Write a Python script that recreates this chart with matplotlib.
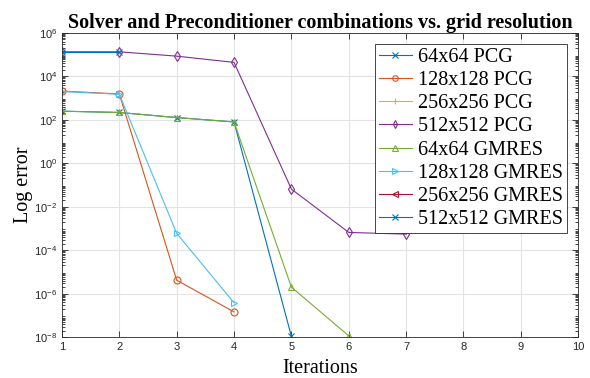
import numpy as np
import matplotlib
matplotlib.use('Agg')
import matplotlib.pyplot as plt
from matplotlib.ticker import LogLocator, FixedLocator

# data (log error per iteration)
labels = ['64x64 PCG', '128x128 PCG', '256x256 PCG', '512x512 PCG',
          '64x64 GMRES', '128x128 GMRES', '256x256 GMRES', '512x512 GMRES']
it_64_pcg = [1, 2, 3, 4, 5]
err_64_pcg = [250, 218, 127, 80, 1.1e-8]
it_128_pcg = [1, 2, 3, 4]
err_128_pcg = [2.1e3, 1.55e3, 4.2e-6, 1.45e-7]
it_256_pcg = []
err_256_pcg = []
it_512_pcg = [1, 2, 3, 4, 5, 6, 7]
err_512_pcg = [1.35e5, 1.35e5, 8.5e4, 4.4e4, 6.5e-2, 6.6e-4, 5.5e-4]
it_64_gmres = [1, 2, 3, 4, 5, 6]
err_64_gmres = [250, 218, 127, 80, 2e-6, 1.15e-8]
it_128_gmres = [1, 2, 3, 4]
err_128_gmres = [2.0e3, 1.5e3, 6e-4, 3.8e-7]
it_256_gmres = []
err_256_gmres = []
it_512_gmres = [1, 2]
err_512_gmres = [1.35e5, 1.35e5]

iters = [it_64_pcg, it_128_pcg, it_256_pcg, it_512_pcg,
         it_64_gmres, it_128_gmres, it_256_gmres, it_512_gmres]
errs = [err_64_pcg, err_128_pcg, err_256_pcg, err_512_pcg,
        err_64_gmres, err_128_gmres, err_256_gmres, err_512_gmres]

# matlab default colour order and the markers used
colors = ['#0072BD', '#D95319', '#EDB120', '#7E2F8E',
          '#77AC30', '#4DBEEE', '#A2142F', '#0072BD']
markers = ['x', 'o', '+', 'd', '^', '>', '<', 'x']

plt.rcParams['font.family'] = 'Liberation Sans'
plt.rcParams['mathtext.fontset'] = 'custom'
plt.rcParams['mathtext.rm'] = 'Liberation Sans'
plt.rcParams['mathtext.it'] = 'Liberation Sans'

fig = plt.figure(figsize=(5.9, 3.78), dpi=100)
ax = fig.add_axes([0.105, 0.108, 0.875, 0.805])

for x, y, c, m, lab in zip(iters, errs, colors, markers, labels):
    ax.semilogy(x, y, color=c, marker=m, markersize=5, markerfacecolor='none',
                markeredgewidth=0.8, linewidth=0.8, label=lab)

ax.set_xlim(1, 10)
ax.set_ylim(1e-8, 1e6)
ax.set_xticks(range(1, 11))
ax.yaxis.set_major_locator(FixedLocator([10.0**k for k in range(-8, 7, 2)]))
ax.yaxis.set_minor_locator(LogLocator(base=10, subs=np.arange(2, 10), numticks=30))

ax.grid(True, which='major', color='#e3e3e3', linewidth=0.8)
ax.set_axisbelow(True)
ax.tick_params(which='both', direction='in', top=True, right=True,
               labelsize=8, colors='#262626', width=0.6)
ax.tick_params(which='major', length=4)
ax.tick_params(which='minor', length=2)
for s in ax.spines.values():
    s.set_color('#262626')
    s.set_linewidth(0.6)

ax.set_title('Solver and Preconditioner combinations vs. grid resolution',
             family='Liberation Serif', fontweight='bold', fontsize=14.5, pad=3)
ax.set_xlabel('Iterations', family='Liberation Serif', fontsize=14.5, labelpad=5)
ax.set_ylabel('Log error', family='Liberation Serif', fontsize=14.5, labelpad=1)

leg = ax.legend(loc='upper right', prop={'family': 'Liberation Serif', 'size': 14.5},
                fancybox=False, edgecolor='#262626', framealpha=1,
                handlelength=1.65, handletextpad=0.3, labelspacing=0.2,
                borderpad=0.2, borderaxespad=0.55, markerscale=0.8)
leg.get_frame().set_linewidth(0.6)

fig.savefig('out.png', dpi=100)
